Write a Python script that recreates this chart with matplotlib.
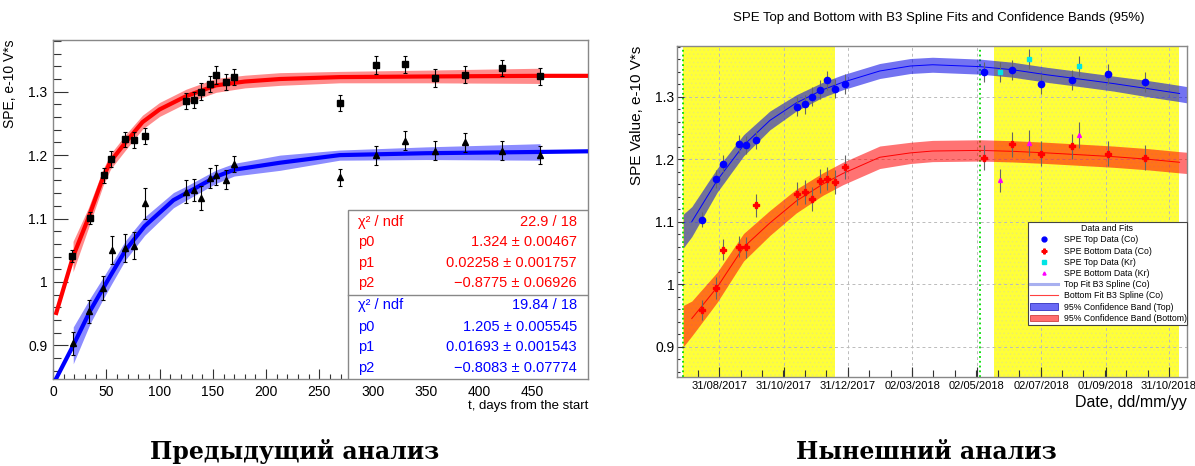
import matplotlib
matplotlib.use("Agg")
import matplotlib.pyplot as plt
import matplotlib.dates as mdates
from matplotlib.lines import Line2D
from matplotlib.patches import Patch, Rectangle
import numpy as np

plt.rcParams['font.family'] = ['Liberation Sans', 'DejaVu Sans']
plt.rcParams['hatch.linewidth'] = 0.5

# ---------------- left panel : previous analysis (days from start) ----------------
top_days = [18, 35, 48, 54, 68, 76, 86, 125, 132, 139, 147, 153, 162, 170,
            269, 303, 330, 358, 387, 421, 457]
top_spe = [1.041, 1.101, 1.168, 1.194, 1.225, 1.224, 1.230, 1.285, 1.287, 1.300,
           1.312, 1.326, 1.315, 1.323, 1.282, 1.342, 1.343, 1.321, 1.327, 1.337, 1.324]
top_err = [0.010, 0.010, 0.012, 0.012, 0.012, 0.013, 0.013, 0.013, 0.013, 0.013,
           0.013, 0.014, 0.013, 0.013, 0.013, 0.014, 0.014, 0.014, 0.014, 0.013, 0.013]

bot_days = [19, 34, 47, 55, 68, 76, 86, 125, 132, 139, 147, 153, 162, 170,
            269, 303, 330, 358, 387, 421, 457]
bot_spe = [0.903, 0.954, 0.990, 1.051, 1.053, 1.057, 1.124, 1.142, 1.145, 1.133,
           1.164, 1.169, 1.161, 1.186, 1.165, 1.200, 1.223, 1.207, 1.220, 1.207, 1.200]
bot_err = [0.018, 0.018, 0.019, 0.022, 0.022, 0.021, 0.024, 0.018, 0.018, 0.019,
           0.016, 0.016, 0.015, 0.013, 0.013, 0.015, 0.015, 0.015, 0.015, 0.015, 0.014]

# fitted curves (band only between first and last data point)
red_days = [2.5, 18.8, 33, 47, 54, 69, 84, 100, 125, 153, 180, 213, 269, 350, 457, 502]
red_fit = [0.948, 1.040, 1.100, 1.165, 1.190, 1.222, 1.252, 1.272, 1.293, 1.310,
           1.316, 1.320, 1.323, 1.324, 1.325, 1.325]
red_half = [0.024, 0.016, 0.013, 0.012, 0.012, 0.011, 0.011, 0.011, 0.011, 0.010,
            0.010, 0.009, 0.010, 0.012]

blue_days = [0, 19, 35, 47, 55, 68, 76, 86, 113, 125, 153, 170, 213, 269, 350, 457, 502]
blue_fit = [0.838, 0.900, 0.955, 0.990, 1.013, 1.050, 1.067, 1.088, 1.129, 1.140,
            1.166, 1.177, 1.188, 1.200, 1.203, 1.205, 1.206]
blue_half = [0.029, 0.020, 0.017, 0.016, 0.015, 0.015, 0.0145, 0.012, 0.011, 0.0105,
             0.010, 0.012, 0.008, 0.010, 0.013]

stat_red = [("χ² / ndf", "22.9 / 18"), ("p0", "1.324 ± 0.00467"),
            ("p1", "0.02258 ± 0.001757"), ("p2", "−0.8775 ± 0.06926")]
stat_blue = [("χ² / ndf", "19.84 / 18"), ("p0", "1.205 ± 0.005545"),
             ("p1", "0.01693 ± 0.001543"), ("p2", "−0.8083 ± 0.07774")]

# ---------------- right panel : current analysis (dates) ----------------
co_top_dates = ['2017-08-15', '2017-08-28', '2017-09-04', '2017-09-19', '2017-09-25',
                '2017-10-05', '2017-11-13', '2017-11-20', '2017-11-27', '2017-12-04',
                '2017-12-11', '2017-12-19', '2017-12-28', '2018-05-09', '2018-06-04',
                '2018-07-02', '2018-07-31', '2018-09-03', '2018-10-08']
co_top = [1.103, 1.168, 1.193, 1.224, 1.223, 1.231, 1.284, 1.288, 1.300, 1.311,
          1.326, 1.313, 1.321, 1.339, 1.342, 1.320, 1.326, 1.336, 1.324]
co_top_err = [0.012, 0.014, 0.014, 0.014, 0.014, 0.014, 0.015, 0.015, 0.015, 0.015,
              0.015, 0.015, 0.016, 0.016, 0.016, 0.016, 0.016, 0.016, 0.016]

co_bot_dates = co_top_dates
co_bot = [0.959, 0.994, 1.055, 1.060, 1.059, 1.126, 1.145, 1.147, 1.136, 1.165,
          1.169, 1.163, 1.187, 1.202, 1.224, 1.209, 1.221, 1.209, 1.202]
co_bot_err = [0.016, 0.017, 0.017, 0.017, 0.017, 0.019, 0.019, 0.019, 0.019, 0.019,
              0.019, 0.019, 0.019, 0.020, 0.020, 0.020, 0.020, 0.020, 0.020]

kr_dates = ['2018-05-24', '2018-06-20', '2018-08-07']
kr_top = [1.340, 1.361, 1.349]
kr_top_err = [0.016, 0.016, 0.016]
kr_bot = [1.166, 1.226, 1.239]
kr_bot_err = [0.019, 0.021, 0.021]

spl_dates = ['2017-08-05', '2017-08-29', '2017-09-23', '2017-10-18', '2017-11-12',
             '2017-12-07', '2017-12-26', '2018-01-30', '2018-02-28', '2018-03-21',
             '2018-05-05', '2018-06-05', '2018-07-07', '2018-08-08', '2018-09-08',
             '2018-10-10', '2018-11-10']
spl_top = [1.100, 1.166, 1.222, 1.262, 1.290, 1.311, 1.323, 1.341, 1.349, 1.351,
           1.348, 1.343, 1.335, 1.328, 1.321, 1.313, 1.305]
spl_bot = [0.945, 0.995, 1.059, 1.098, 1.133, 1.160, 1.177, 1.203, 1.210, 1.213,
           1.214, 1.2125, 1.210, 1.207, 1.204, 1.200, 1.195]

band_dates = ['2017-07-28'] + spl_dates + ['2018-11-17']
band_top_mid = [1.085] + spl_top + [1.303]
band_top_half = [0.027, 0.024, 0.019, 0.017, 0.015, 0.013, 0.012, 0.012, 0.012, 0.012,
                 0.012, 0.012, 0.012, 0.012, 0.012, 0.012, 0.013, 0.013, 0.013]
band_bot_mid = [0.933] + spl_bot + [1.194]
band_bot_half = [0.033, 0.028, 0.024, 0.022, 0.020, 0.019, 0.018, 0.018, 0.018, 0.017,
                 0.017, 0.017, 0.017, 0.017, 0.017, 0.017, 0.017, 0.017, 0.017]

green_dates = ['2017-07-28', '2018-05-05']
yellow_spans = [('2017-07-28', '2017-12-19'), ('2018-05-18', '2018-11-09')]
tick_dates = ['2017-08-31', '2017-10-31', '2017-12-31', '2018-03-02', '2018-05-02',
              '2018-07-02', '2018-09-01', '2018-10-31']
tick_labels = ['31/08/2017', '31/10/2017', '31/12/2017', '02/03/2018', '02/05/2018',
               '02/07/2018', '01/09/2018', '31/10/2018']


def dn(lst):
    return mdates.date2num(np.array(lst, dtype='datetime64[D]'))


fig = plt.figure(figsize=(11.95, 4.66), dpi=100)

# ======== left ========
ax1 = fig.add_axes([53/1195, 87/466, 535/1195, 339/466])
rd = np.array(red_days); rf = np.array(red_fit); rh = np.array(red_half)
bd = np.array(blue_days); bf = np.array(blue_fit); bh = np.array(blue_half)
ax1.fill_between(rd[1:-1], rf[1:-1] - rh, rf[1:-1] + rh, color='#ff0000', alpha=0.45, lw=0, zorder=2)
ax1.fill_between(bd[1:-1], bf[1:-1] - bh, bf[1:-1] + bh, color='#0000ff', alpha=0.45, lw=0, zorder=2)
ax1.plot(rd, rf, color='#ff0000', lw=3, zorder=3, solid_capstyle='butt', solid_joinstyle='round')
ax1.plot(bd, bf, color='#0000ff', lw=3, zorder=3, solid_capstyle='butt', solid_joinstyle='round')
ax1.errorbar(top_days, top_spe, yerr=top_err, fmt='s', color='black', ms=5,
             elinewidth=0.8, capsize=1.5, capthick=0.8, zorder=4)
ax1.errorbar(bot_days, bot_spe, yerr=bot_err, fmt='^', color='black', ms=5,
             elinewidth=0.8, capsize=1.5, capthick=0.8, zorder=4)

ax1.set_xlim(0, 502)
ax1.set_ylim(0.847, 1.3815)
ax1.set_xticks(np.arange(0, 451, 50))
ax1.set_xticks(np.arange(0, 502, 10), minor=True)
ax1.set_yticks([0.9, 1.0, 1.1, 1.2, 1.3])
ax1.set_yticklabels(['0.9', '1', '1.1', '1.2', '1.3'])
ax1.set_yticks(np.arange(0.86, 1.381, 0.02), minor=True)
ax1.tick_params(axis='x', which='major', direction='in', length=7, width=0.8, labelsize=10, pad=4, color='#333333')
ax1.tick_params(axis='x', which='minor', direction='in', length=3.5, width=0.8, color='#333333')
ax1.tick_params(axis='y', which='major', direction='in', length=11, width=0.8, labelsize=10, pad=4, color='#333333')
ax1.tick_params(axis='y', which='minor', direction='in', length=5.5, width=0.8, color='#333333')
for s in ax1.spines.values():
    s.set_color('#888888')
    s.set_linewidth(1)
ax1.set_ylabel('SPE, e-10 V*s', loc='top', fontsize=10, labelpad=8)
ax1.set_xlabel('t, days from the start', loc='right', fontsize=9.5, labelpad=1)

# stat box
ax1.add_patch(Rectangle((0.551, 0.0), 0.449, 0.4985, transform=ax1.transAxes,
                        facecolor='white', edgecolor='#888888', lw=1, zorder=6))
ax1.plot([0.551, 1.0], [0.2478, 0.2478], transform=ax1.transAxes, color='#888888', lw=1, zorder=7)
rows_y = [0.464, 0.403, 0.343, 0.282, 0.218, 0.154, 0.095, 0.032]
for i, (k, v) in enumerate(stat_red + stat_blue):
    col = '#ff0000' if i < 4 else '#0000ff'
    ax1.text(0.570, rows_y[i], k, transform=ax1.transAxes, color=col, fontsize=10.5,
             va='center', ha='left', zorder=8)
    ax1.text(0.979, rows_y[i], v, transform=ax1.transAxes, color=col, fontsize=10.5,
             va='center', ha='right', zorder=8)

# ======== right ========
ax2 = fig.add_axes([677/1195, 89/466, 510/1195, 331/466])
for a, b in yellow_spans:
    ax2.axvspan(dn([a])[0], dn([b])[0], facecolor='#ffff38', edgecolor='#ecec70',
                hatch='....', lw=0, zorder=0.2)
for g in green_dates:
    ax2.axvline(dn([g])[0], color='#00dd00', ls=':', lw=1.3, zorder=1)

bdn = dn(band_dates)
ax2.fill_between(bdn, np.array(band_top_mid) - band_top_half, np.array(band_top_mid) + band_top_half,
                 color='#0000e6', alpha=0.55, lw=0, zorder=2)
ax2.fill_between(bdn, np.array(band_bot_mid) - band_bot_half, np.array(band_bot_mid) + band_bot_half,
                 color='#ff0000', alpha=0.55, lw=0, zorder=2)
sdn = dn(spl_dates)
ax2.plot(sdn, spl_top, color='#0000ff', lw=0.7, zorder=3)
ax2.plot(sdn, spl_bot, color='#ff0000', lw=0.7, zorder=3)

ax2.errorbar(dn(co_top_dates), co_top, yerr=co_top_err, fmt='o', color='#0000ff', ms=4.5,
             ecolor='#666666', elinewidth=0.8, zorder=4)
ax2.errorbar(dn(co_bot_dates), co_bot, yerr=co_bot_err, fmt='P', color='#ff0000', ms=4.5,
             ecolor='#666666', elinewidth=0.8, zorder=4)
ax2.errorbar(dn(kr_dates), kr_top, yerr=kr_top_err, fmt='s', color='#00e5e5', ms=3.5,
             ecolor='#666666', elinewidth=0.8, zorder=4)
ax2.errorbar(dn(kr_dates), kr_bot, yerr=kr_bot_err, fmt='^', color='#ff00ff', ms=2.8,
             ecolor='#666666', elinewidth=0.8, zorder=4)

ax2.set_xlim(dn(['2017-07-22'])[0], dn(['2018-11-17'])[0])
ax2.set_ylim(0.8515, 1.381)
tdn = dn(tick_dates)
ax2.set_xticks(tdn)
ax2.set_xticklabels(tick_labels)
step = (tdn[-1] - tdn[0]) / (len(tdn) - 1) / 3
ax2.set_xticks(np.arange(tdn[0] - step, tdn[-1] + step, step), minor=True)
ax2.set_yticks([0.9, 1.0, 1.1, 1.2, 1.3])
ax2.set_yticklabels(['0.9', '1', '1.1', '1.2', '1.3'])
ax2.set_yticks(np.arange(0.86, 1.381, 0.02), minor=True)
ax2.tick_params(axis='x', which='major', direction='in', length=7, width=0.8, labelsize=8, pad=3, color='#333333')
ax2.tick_params(axis='x', which='minor', direction='in', length=5, width=0.8, color='#333333')
ax2.tick_params(axis='y', which='major', direction='in', length=5, width=0.8, labelsize=10, pad=2, color='#333333')
ax2.tick_params(axis='y', which='minor', direction='in', length=2.5, width=0.8, color='#333333')
ax2.grid(True, which='major', ls=(0, (3, 3)), color='#bbbbbb', lw=0.7)
for s in ax2.spines.values():
    s.set_color('#888888')
    s.set_linewidth(1)
ax2.set_ylabel('SPE Value, e-10 V*s', loc='top', fontsize=11, labelpad=8)
ax2.set_xlabel('Date, dd/mm/yy', loc='right', fontsize=11.5, labelpad=3)

handles = [
    Line2D([], [], ls='none', marker='o', color='#0000ff', ms=3.5),
    Line2D([], [], ls='none', marker='P', color='#ff0000', ms=3.5),
    Line2D([], [], ls='none', marker='s', color='#00e5e5', ms=2.8),
    Line2D([], [], ls='none', marker='^', color='#ff00ff', ms=2.2),
    Line2D([], [], color='#a8b0f0', lw=2.2),
    Line2D([], [], color='#ff4040', lw=0.8),
    Patch(facecolor='#6a6af5', edgecolor='#3030c0', lw=0.6),
    Patch(facecolor='#ff6e6e', edgecolor='#d04040', lw=0.6),
]
labels = ['SPE Top Data (Co)', 'SPE Bottom Data (Co)', 'SPE Top Data (Kr)', 'SPE Bottom Data (Kr)',
          'Top Fit B3 Spline (Co)', 'Bottom Fit B3 Spline (Co)', '95% Confidence Band (Top)',
          '95% Confidence Band (Bottom)']
leg = ax2.legend(handles, labels, title='Data and Fits', loc='upper left',
                 bbox_to_anchor=(0.688, 0.468, 0.312, 0.0), mode='expand', fontsize=6.3,
                 title_fontsize=6.3, frameon=True, fancybox=False, edgecolor='#444444',
                 framealpha=1, borderpad=0.25, labelspacing=0.25, handlelength=3.2,
                 handletextpad=0.7, borderaxespad=0)
leg.get_frame().set_linewidth(0.8)
leg.set_zorder(10)

fig.text(939/1195, 1 - 18/466, 'SPE Top and Bottom with B3 Spline Fits and Confidence Bands (95%)',
         ha='center', va='center', fontsize=9.5)

fig.text(295/1195, 1 - 452/466, 'Предыдущий анализ', ha='center', va='center',
         fontsize=17, fontweight='bold', family='DejaVu Serif')
fig.text(926/1195, 1 - 452/466, 'Нынешний анализ', ha='center', va='center',
         fontsize=17, fontweight='bold', family='DejaVu Serif')

fig.savefig('out.png', dpi=100)
